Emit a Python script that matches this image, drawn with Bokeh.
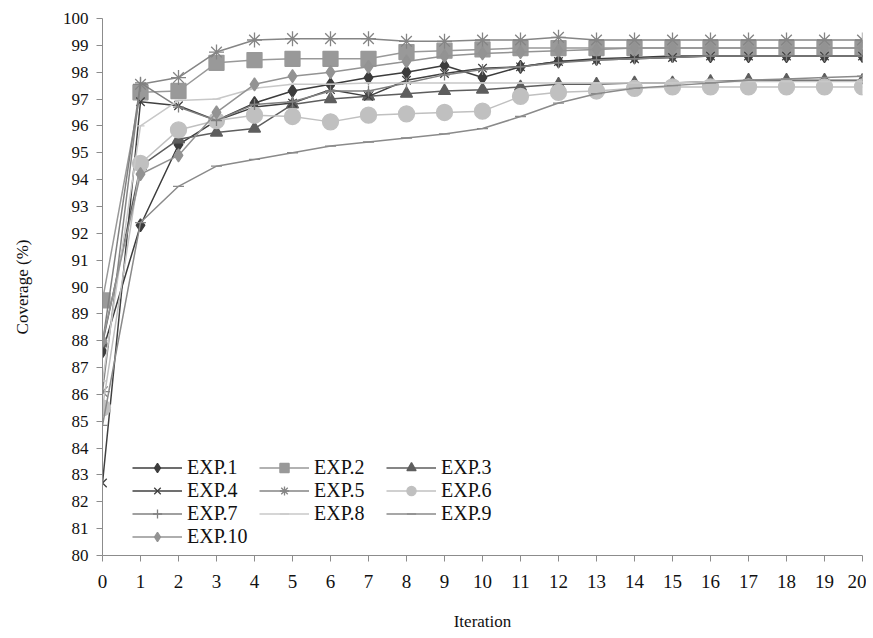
from bokeh.plotting import figure
from bokeh.models import Legend, LegendItem, FixedTicker, Range1d
from bokeh.embed import file_html
from bokeh.resources import INLINE

iterations = list(range(21))
exp1 = [87.6, 92.3, 95.3, 96.2, 96.85, 97.3, 97.55, 97.8, 98.0, 98.25, 97.8, 98.2, 98.4, 98.5, 98.55, 98.6, 98.6, 98.6, 98.6, 98.6, 98.6]
exp2 = [89.5, 97.25, 97.3, 98.35, 98.45, 98.5, 98.5, 98.5, 98.75, 98.8, 98.85, 98.9, 98.9, 98.9, 98.9, 98.9, 98.9, 98.9, 98.9, 98.9, 98.9]
exp3 = [87.9, 94.5, 95.5, 95.75, 95.9, 96.8, 97.0, 97.1, 97.2, 97.3, 97.35, 97.45, 97.55, 97.55, 97.6, 97.6, 97.65, 97.7, 97.7, 97.7, 97.7]
exp4 = [82.7, 96.9, 96.75, 96.2, 96.7, 96.85, 97.35, 97.1, 97.7, 97.95, 98.15, 98.2, 98.4, 98.45, 98.5, 98.55, 98.6, 98.6, 98.6, 98.6, 98.6]
exp5 = [86.1, 97.55, 97.8, 98.75, 99.2, 99.25, 99.25, 99.25, 99.15, 99.15, 99.2, 99.2, 99.3, 99.2, 99.2, 99.2, 99.2, 99.2, 99.2, 99.2, 99.2]
exp6 = [85.5, 94.6, 95.85, 96.2, 96.4, 96.35, 96.15, 96.4, 96.45, 96.5, 96.55, 97.1, 97.25, 97.3, 97.4, 97.45, 97.45, 97.45, 97.45, 97.45, 97.45]
exp7 = [87.9, 97.6, 96.7, 96.2, 96.8, 96.9, 97.3, 97.3, 97.6, 97.9, 98.1, 98.2, 98.35, 98.45, 98.5, 98.55, 98.6, 98.6, 98.6, 98.6, 98.6]
exp8 = [86.5, 96.0, 96.95, 97.0, 97.4, 97.55, 97.55, 97.6, 97.6, 97.6, 97.6, 97.6, 97.6, 97.6, 97.6, 97.6, 97.65, 97.65, 97.65, 97.65, 97.65]
exp9 = [84.85, 92.4, 93.75, 94.5, 94.75, 95.0, 95.25, 95.4, 95.55, 95.7, 95.9, 96.35, 96.85, 97.2, 97.4, 97.5, 97.6, 97.7, 97.75, 97.8, 97.85]
exp10 = [88.0, 94.2, 94.9, 96.5, 97.55, 97.85, 98.0, 98.2, 98.4, 98.6, 98.7, 98.75, 98.8, 98.85, 98.9, 98.9, 98.9, 98.9, 98.9, 98.9, 98.9]

names = ["EXP.1", "EXP.2", "EXP.3", "EXP.4", "EXP.5", "EXP.6", "EXP.7", "EXP.8", "EXP.9", "EXP.10"]
series = [exp1, exp2, exp3, exp4, exp5, exp6, exp7, exp8, exp9, exp10]
colors = ["#3c3c3c", "#999999", "#5e5e5e", "#404040", "#858585", "#c0c0c0", "#808080", "#c8c8c8", "#8a8a8a", "#939393"]
markers = ["diamond", "square", "triangle", "x", "asterisk", "circle", "cross", "dash", "dash", "diamond"]
sizes = [13, 15, 12, 12, 15, 16, 11, 8, 11, 13]

FONT = "Liberation Serif"

p = figure(width=866, height=638, output_backend="svg", toolbar_location=None,
           x_range=Range1d(0, 20), y_range=Range1d(80, 100),
           min_border_left=102, min_border_right=4, min_border_top=18, min_border_bottom=83)
p.outline_line_color = None
p.xgrid.visible = False
p.ygrid.visible = False

items = []
for name, ys, c, m, s in zip(names, series, colors, markers, sizes):
    r1 = p.line(iterations, ys, line_color=c, line_width=1.5)
    r2 = p.scatter(iterations, ys, marker=m, size=s, fill_color=c, line_color=c, line_width=1.3)
    items.append(LegendItem(label=name, renderers=[r1, r2]))

legend = Legend(items=items, orientation="horizontal", ncols=3, location=(30, 7),
                border_line_color=None, background_fill_alpha=0, padding=0, margin=0,
                glyph_width=50, glyph_height=23, label_width=72, label_height=23,
                label_standoff=5, spacing=0,
                label_text_font=FONT, label_text_font_size="20px", label_text_color="#111111")
p.add_layout(legend)

for ax in (p.xaxis[0], p.yaxis[0]):
    ax.axis_line_color = "#8c8c8c"
    ax.major_tick_line_color = "#8c8c8c"
    ax.minor_tick_line_color = None
    ax.major_tick_in = 0
    ax.major_tick_out = 6
    ax.major_label_text_font = FONT
    ax.major_label_text_color = "#111111"
    ax.axis_label_text_font = FONT
    ax.axis_label_text_font_size = "17px"
    ax.axis_label_text_font_style = "normal"
    ax.axis_label_text_color = "#111111"

p.xaxis.major_label_text_font_size = "19px"
p.yaxis.major_label_text_font_size = "17px"
p.xaxis.ticker = FixedTicker(ticks=iterations)
p.yaxis.ticker = FixedTicker(ticks=list(range(80, 101)))
p.xaxis.axis_label = "Iteration"
p.yaxis.axis_label = "Coverage (%)"
p.xaxis.major_label_standoff = 13
p.xaxis.axis_label_standoff = 21
p.yaxis.major_label_standoff = 8
p.yaxis.axis_label_standoff = 28

open("out.html", "w").write(file_html(p, INLINE))
